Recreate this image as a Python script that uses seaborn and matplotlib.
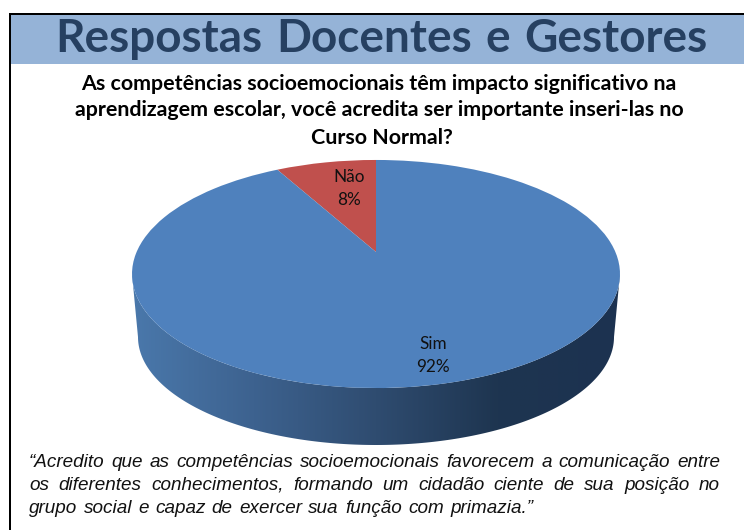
import numpy as np
import seaborn as sns
from matplotlib import pyplot as plt
from matplotlib.patches import Polygon, Rectangle
from matplotlib.path import Path
from matplotlib.transforms import Transform

answers = ['Não', 'Sim']
shares = [8, 92]
slice_colors = ['#c0504d', '#4f81bd']
side_colors = ['#4a78ab', '#3d628f', '#2f4c70', '#1e3550', '#1c3250']

title = 'Respostas Docentes e Gestores'
question = ['As competências socioemocionais têm impacto significativo na',
            'aprendizagem escolar, você acredita ser importante inseri-las no',
            'Curso Normal?']
quote = ['“Acredito que as competências socioemocionais favorecem a comunicação entre',
         'os diferentes conhecimentos, formando um cidadão ciente de sua posição no',
         'grupo social e capaz de exercer sua função com primazia.”']

# pie geometry in pixels, apex is above the ellipse centre because of the perspective
APEX = (376, 252)
TILT = 0.193
SCALE_X = 239.4
SCALE_Y = 109.8


class PieTilt(Transform):
    # flat unit pie -> tilted pie seen in perspective
    input_dims = 2
    output_dims = 2

    def transform_non_affine(self, values):
        xy = np.asarray(values)
        d = 1 + TILT * xy[:, 1]
        return np.column_stack([APEX[0] + SCALE_X * xy[:, 0] / d,
                                APEX[1] - SCALE_Y * xy[:, 1] / d])

    def transform_path_non_affine(self, path):
        flat = path.interpolated(1) if path.codes is None else path
        return Path(self.transform_non_affine(flat.vertices), flat.codes)


sns.set_theme(style='white')

fig = plt.figure(figsize=(7.44, 5.30), dpi=100)
ax = fig.add_axes([0, 0, 1, 1])

wedges, _ = ax.pie(shares, colors=slice_colors, startangle=90,
                   wedgeprops={'linewidth': 0})
ax.set_aspect('auto')
ax.set_xlim(0, 744)
ax.set_ylim(530, 0)
ax.axis('off')

tilt = PieTilt()
for w in wedges:
    w.set_transform(tilt + ax.transData)
    w.set_zorder(3)

# side of the cake, lower half of top ellipse down to a slightly smaller bottom ellipse
t = np.linspace(np.pi, 2 * np.pi, 200)
top_edge = np.column_stack([376 + 244 * np.cos(t), 274 - 114 * np.sin(t)])
bottom_edge = np.column_stack([376 + 238 * np.cos(t), 337 - 108 * np.sin(t)])
side = Polygon(np.vstack([top_edge, bottom_edge[::-1]]), closed=True,
               facecolor='none', edgecolor='none', transform=ax.transData)
ax.add_patch(side)
cmap = sns.blend_palette(side_colors, as_cmap=True)
img = ax.imshow(np.linspace(0, 1, 256).reshape(1, -1), cmap=cmap, aspect='auto',
                extent=(132, 620, 445, 270), zorder=2)
img.set_clip_path(side)
ax.set_xlim(0, 744)
ax.set_ylim(530, 0)

# header band and frame
ax.add_patch(Rectangle((9, 15), 735, 48.5, facecolor='#95b3d7', edgecolor='none', zorder=1))
ax.add_patch(Rectangle((9, 13), 735, 2, facecolor='black', edgecolor='none', zorder=4))
ax.add_patch(Rectangle((9, 13), 2, 517, facecolor='black', edgecolor='none', zorder=4))


def put_line(line, x0, x1, y, justify=True, gap=3, **kw):
    # matplotlib has no justified text, so words are spaced one by one
    renderer = fig.canvas.get_renderer()
    words = line.split(' ')
    items = [ax.text(x0, y, w, ha='left', va='baseline', **kw) for w in words]
    widths = [i.get_window_extent(renderer).width for i in items]
    if justify:
        gap = (x1 - x0 - sum(widths)) / (len(words) - 1)
    x = x0
    for item, width in zip(items, widths):
        item.set_x(x)
        x += width + gap


put_line(title, 55, 707, 52, fontsize=33, family='Lato', fontweight='bold', color='#264061')

for y, x, line in zip([89.5, 116, 144], [379, 379, 382], question):
    ax.text(x, y, line, fontsize=15.4, family='Lato', fontweight='bold', color='black',
            ha='center', va='baseline')

label_style = dict(fontsize=12.3, family='Lato', color='#111111', ha='center', va='center')
ax.text(349, 177, answers[0], **label_style)
ax.text(349, 200, f'{shares[0]}%', **label_style)
ax.text(433, 344, answers[1], **label_style)
ax.text(433, 367, f'{shares[1]}%', **label_style)

quote_style = dict(fontsize=13.6, family='Liberation Sans', style='italic', color='#111111')
put_line(quote[0], 29, 720, 467, **quote_style)
put_line(quote[1], 29, 720, 490, **quote_style)
put_line(quote[2], 29, 533, 513, **quote_style)

fig.savefig('out.png', dpi=100)
